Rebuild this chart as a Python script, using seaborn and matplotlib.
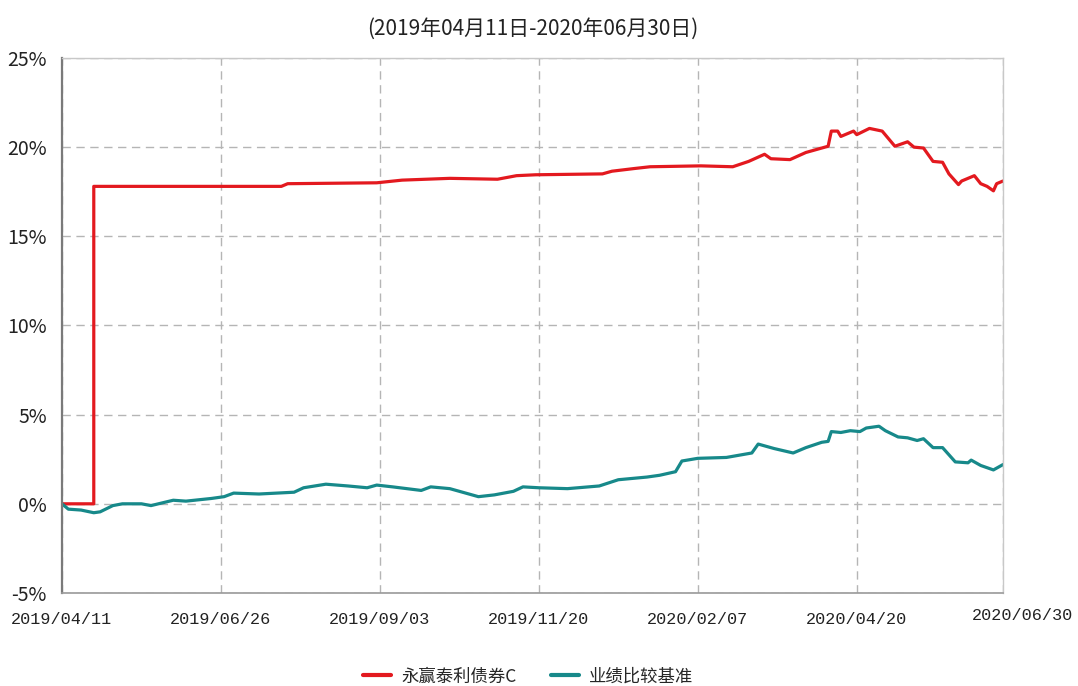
import pandas as pd
import matplotlib
import matplotlib.pyplot as plt
import matplotlib.transforms as mtransforms
from matplotlib.lines import Line2D
import seaborn as sns

# --- Daten (Handelstag-Index ab 2019/04/11, Rendite in %) ---
fund_name = '永赢泰利债券C'
bench_name = '业绩比较基准'

fund_day = [0, 10, 10, 69, 71, 99, 107, 122, 137, 143, 149, 170, 173, 180, 185,
            201, 211, 216, 221, 223, 229, 234, 241, 242, 244, 245, 249, 250, 254,
            258, 262, 266, 268, 271, 274, 277, 279, 282, 283, 287, 289, 291, 293,
            294, 296]
fund_ret = [0.0, 0.0, 17.8, 17.8, 17.95, 18.0, 18.15, 18.25, 18.2, 18.4, 18.45,
            18.5, 18.65, 18.8, 18.9, 18.95, 18.9, 19.2, 19.6, 19.35, 19.3, 19.7,
            20.05, 20.9, 20.9, 20.6, 20.9, 20.7, 21.05, 20.9, 20.05, 20.3, 20.0,
            19.95, 19.2, 19.15, 18.5, 17.9, 18.1, 18.4, 17.95, 17.8, 17.55, 17.95,
            18.1]

bench_day = [0, 2, 6, 10, 12, 16, 19, 25, 28, 35, 39, 47, 51, 54, 62, 73, 76, 83,
             90, 96, 99, 104, 113, 116, 122, 127, 131, 136, 142, 145, 150, 159,
             169, 175, 184, 188, 193, 195, 200, 209, 217, 219, 224, 230, 234, 239,
             241, 242, 245, 248, 251, 253, 257, 259, 263, 266, 269, 271, 274, 277,
             281, 285, 286, 289, 293, 296]
bench_ret = [0.0, -0.3, -0.35, -0.5, -0.45, -0.1, 0.0, 0.0, -0.1, 0.2, 0.15, 0.3,
             0.4, 0.6, 0.55, 0.65, 0.9, 1.1, 1.0, 0.9, 1.05, 0.95, 0.75, 0.95, 0.85,
             0.6, 0.4, 0.5, 0.7, 0.95, 0.9, 0.85, 1.0, 1.35, 1.5, 1.6, 1.8, 2.4,
             2.55, 2.6, 2.85, 3.35, 3.1, 2.85, 3.15, 3.45, 3.5, 4.05, 4.0, 4.1,
             4.05, 4.25, 4.35, 4.1, 3.75, 3.7, 3.55, 3.65, 3.15, 3.15, 2.35, 2.3,
             2.45, 2.15, 1.9, 2.2]

tick_pos = [0, 50, 100, 150, 200, 250, 296]
tick_labels = ['2019/04/11', '2019/06/26', '2019/09/03', '2019/11/20',
               '2020/02/07', '2020/04/20', '2020/06/30']
y_ticks = [-5, 0, 5, 10, 15, 20, 25]

red = '#e3191f'
teal = '#17898a'

df = pd.concat([
    pd.DataFrame({'day': fund_day, 'ret': fund_ret, 'serie': fund_name}),
    pd.DataFrame({'day': bench_day, 'ret': bench_ret, 'serie': bench_name}),
], ignore_index=True)

sns.set_style('white')
plt.rcParams['font.family'] = ['Noto Sans CJK SC', 'DejaVu Sans']

fig = plt.figure(figsize=(10.78, 6.86), dpi=100)
ax = fig.add_axes([0.0575, 0.1356, 0.8729, 0.7799])

sns.lineplot(data=df, x='day', y='ret', hue='serie',
             palette={fund_name: red, bench_name: teal},
             estimator=None, sort=False, linewidth=2.3, legend=False, ax=ax)

ax.set_xlim(0, 296)
ax.set_ylim(-5, 25)
ax.set_yticks(y_ticks)
ax.set_yticklabels([f'{v}%' for v in y_ticks])
ax.set_xticks(tick_pos)
ax.set_xticklabels(tick_labels, family=['Liberation Mono', 'DejaVu Sans Mono'])
ax.set_xlabel('')
ax.set_ylabel('')

ax.grid(True, linestyle=(0, (6, 4)), color='#b5b5b5', linewidth=1)
ax.tick_params(axis='y', length=0, pad=11, labelsize=14, colors='#222222')
ax.tick_params(axis='x', length=0, pad=14, labelsize=12.2, colors='#222222')

# letzte Datumsbeschriftung etwas nach rechts versetzt
last = ax.get_xticklabels()[-1]
last.set_transform(last.get_transform() +
                   mtransforms.ScaledTranslation(0.2, 0.04, fig.dpi_scale_trans))

ax.spines['left'].set_color('#7a7a7a')
ax.spines['left'].set_linewidth(1.6)
ax.spines['bottom'].set_color('#9a9a9a')
ax.spines['bottom'].set_linewidth(1.2)
for s in ['top', 'right']:
    ax.spines[s].set_color('#c8c8c8')
    ax.spines[s].set_linewidth(1)

fig.text(0.494, 0.958, '(2019年04月11日-2020年06月30日)', ha='center', va='center',
         fontsize=15, color='#222222')

handles = [Line2D([], [], color=red, linewidth=3), Line2D([], [], color=teal, linewidth=3)]
fig.legend(handles, [fund_name, bench_name], loc='center', bbox_to_anchor=(0.49, 0.014),
           ncol=2, frameon=False, handlelength=1.6, columnspacing=2.0,
           handletextpad=0.6, prop={'family': ['Noto Sans CJK SC', 'DejaVu Sans'], 'size': 12.5})

fig.savefig('out.png', dpi=100)
